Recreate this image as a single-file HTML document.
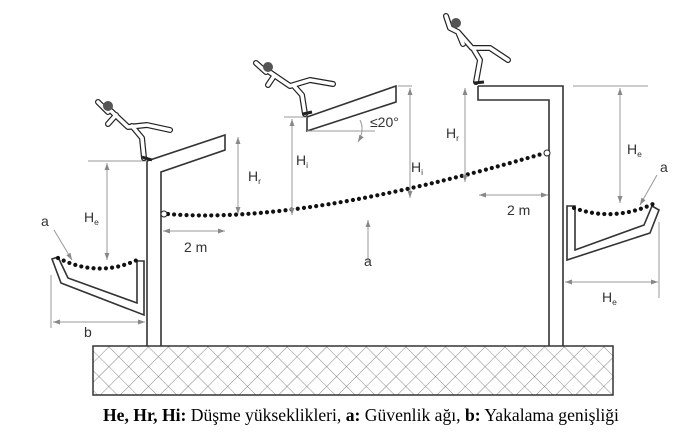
<!DOCTYPE html>
<html><head><meta charset="utf-8"><style>
html,body{margin:0;padding:0;background:#fff;width:700px;height:442px;overflow:hidden}
svg{display:block}
.cap{font-family:"Liberation Serif",serif;font-size:17.6px;fill:#000}
.lb{font-family:"Liberation Sans",sans-serif;font-size:14px;fill:#333}
.sub{font-size:8.5px}
.fig{fill:none;stroke:#222;stroke-width:6;stroke-linecap:round;stroke-linejoin:round}
.figi{fill:none;stroke:#fff;stroke-width:3.6;stroke-linecap:round;stroke-linejoin:round}
</style></head><body>
<svg width="700" height="442" viewBox="0 0 700 442" xmlns="http://www.w3.org/2000/svg">
<defs>
<pattern id="h" width="14" height="14" patternUnits="userSpaceOnUse" patternTransform="rotate(45)">
<path d="M0 0H14M0 0V14" stroke="#666" stroke-width="0.8" fill="none"/>
</pattern>
<marker id="a" viewBox="0 0 10 10" refX="10" refY="5" markerWidth="7" markerHeight="7" orient="auto-start-reverse"><path d="M0 1.5L10 5L0 8.5z" fill="#888"/></marker>
</defs>
<rect x="93" y="346" width="520" height="49" fill="url(#h)" stroke="#333" stroke-width="1.5"/>
<g fill="none" stroke="#333" stroke-width="1.6">
<path d="M147 346V161L225 135V150L161 172V346"/>
<path d="M52 259L61 283L144 315V261H137V303L68 278L58 257Z" fill="#fff"/>
<path d="M307 117L396 86V102L307 131Z" fill="#fff"/>
<path d="M478 86H563V346M549 346V100H478V86"/>
<path d="M567 206H575V250L644 225L652 206L659 210L650 233L567 260Z" fill="#fff"/>
</g>
<g fill="none" stroke="#111" stroke-width="4.2" stroke-linecap="round" stroke-dasharray="0 6.2">
<path d="M58 258Q98 278 137 260"/>
<path d="M168 214Q300 225 545 153"/>
<path d="M574 208Q613 222 653 204"/>
</g>
<circle cx="164" cy="214" r="3" fill="#fff" stroke="#222"/>
<circle cx="547" cy="153" r="3" fill="#fff" stroke="#222"/>
<g fill="none" stroke="#999" stroke-width="1">
<path d="M88 161H147M51 275V328M573 86H648M659 222V298M284 117H307M398 86H412M307 131H375"/>
<path d="M107 163V260" marker-start="url(#a)" marker-end="url(#a)"/>
<path d="M53 322H145" marker-start="url(#a)" marker-end="url(#a)"/>
<path d="M238 137V214" marker-start="url(#a)" marker-end="url(#a)"/>
<path d="M163 231H225" marker-start="url(#a)" marker-end="url(#a)"/>
<path d="M292 119V215" marker-start="url(#a)" marker-end="url(#a)"/>
<path d="M410 88V198" marker-start="url(#a)" marker-end="url(#a)"/>
<path d="M368 262V220" marker-end="url(#a)"/>
<path d="M465 88V182" marker-start="url(#a)" marker-end="url(#a)"/>
<path d="M479 195H548" marker-start="url(#a)" marker-end="url(#a)"/>
<path d="M620 88V203" marker-start="url(#a)" marker-end="url(#a)"/>
<path d="M565 282H658" marker-start="url(#a)" marker-end="url(#a)"/>
<path d="M54 230L72 260" marker-end="url(#a)"/>
<path d="M657 175L640 205" marker-end="url(#a)"/>
<path d="M360 120Q365 130 358 142" marker-end="url(#a)"/>
</g>
<text class="lb" x="84" y="222">H<tspan class="sub" dy="3">e</tspan></text>
<text class="lb" x="41" y="226">a</text>
<text class="lb" x="84" y="337">b</text>
<text class="lb" x="248" y="181">H<tspan class="sub" dy="3">r</tspan></text>
<text class="lb" x="184" y="252">2 m</text>
<text class="lb" x="296" y="165">H<tspan class="sub" dy="3">i</tspan></text>
<text class="lb" x="411" y="172">H<tspan class="sub" dy="3">i</tspan></text>
<text class="lb" x="364" y="266">a</text>
<text class="lb" x="370" y="127">≤20°</text>
<text class="lb" x="446" y="138">H<tspan class="sub" dy="3">r</tspan></text>
<text class="lb" x="507" y="215">2 m</text>
<text class="lb" x="627" y="154">H<tspan class="sub" dy="3">e</tspan></text>
<text class="lb" x="660" y="172">a</text>
<text class="lb" x="602" y="302">H<tspan class="sub" dy="3">e</tspan></text>
<g>
<path class="fig" d="M98 102L108 112M110 110L128 127L147 125L170 130M132 126L142 138L144 158M116 115L108 124"/>
<path class="figi" d="M98 102L108 112M110 110L128 127L147 125L170 130M132 126L142 138L144 158M116 115L108 124"/>
<circle cx="108" cy="106" r="5" fill="#555"/>
<path d="M142 157L152 160" stroke="#222" stroke-width="3"/>
</g>
<g>
<path class="fig" d="M256 63L266 72M268 71L290 86L310 80L333 84M294 86L302 95L305 114M274 76L268 85"/>
<path class="figi" d="M256 63L266 72M268 71L290 86L310 80L333 84M294 86L302 95L305 114M274 76L268 85"/>
<circle cx="268" cy="67" r="5" fill="#555"/>
<path d="M303 114L312 112" stroke="#222" stroke-width="3"/>
</g>
<g>
<path class="fig" d="M446 16L450 28L458 32M458 32L472 48L490 48L508 60M474 50L480 60L476 82M458 32L463 44"/>
<path class="figi" d="M446 16L450 28L458 32M458 32L472 48L490 48L508 60M474 50L480 60L476 82M458 32L463 44"/>
<circle cx="456" cy="23" r="5" fill="#555"/>
<path d="M474 83L484 82" stroke="#222" stroke-width="3"/>
</g>
<text class="cap" x="103" y="421"><tspan font-weight="bold">He, Hr, Hi:</tspan> Düşme yükseklikleri, <tspan font-weight="bold">a:</tspan> Güvenlik ağı, <tspan font-weight="bold">b:</tspan> Yakalama genişliği</text>
</svg>
</body></html>
